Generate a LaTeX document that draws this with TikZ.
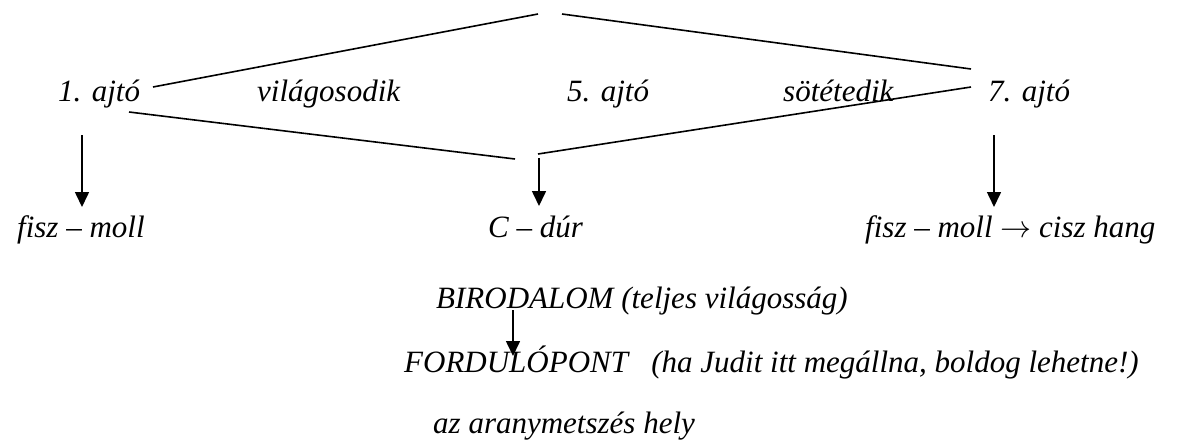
\RequirePackage{fix-cm}
\documentclass[tikz,border=0pt]{standalone}
\usepackage{fontspec}
\setmainfont{Liberation Serif}
\usetikzlibrary{arrows.meta}
\begin{document}
\begin{tikzpicture}[x=1pt,y=-1pt,
  lbl/.style={anchor=base west,inner sep=0pt,font=\itshape\fontsize{31}{37}\selectfont},
  ln/.style={line width=1.6pt},
  arr/.style={line width=1.6pt,-{Triangle[length=15pt,width=14pt]}}]
\useasboundingbox (0,0) rectangle (1180,439);
% texts
\node[lbl] (d1) at (58,101) {1. ajtó};
\node[lbl] (vil) at (257,101) {világosodik};
\node[lbl] (d5) at (567,101) {5. ajtó};
\node[lbl] (sot) at (783,101) {sötétedik};
\node[lbl] (d7) at (988,101) {7. ajtó};
\node[lbl] (fm1) at (17,237) {fisz – moll};
\node[lbl] (cdur) at (488,237) {C – dúr};
\node[lbl] (fm7) at (865,237) {fisz – moll $\rightarrow$ cisz hang};
\node[lbl] (bir) at (436,308) {BIRODALOM (teljes világosság)};
\node[lbl] (ford) at (404,372) {FORDULÓPONT\hspace{0.5em} (ha Judit itt megállna, boldog lehetne!)};
\node[lbl] (arany) at (433,433) {az aranymetszés hely};
% line endpoints
\coordinate (a1) at (153,87);
\coordinate (apexL) at (538,14);
\coordinate (apexR) at (562,14);
\coordinate (a7) at (971,69);
\coordinate (b1) at (129,112);
\coordinate (midL) at (515,159);
\coordinate (midR) at (538,154);
\coordinate (b7) at (971,87);
\draw[ln] (a1) -- (apexL);
\draw[ln] (apexR) -- (a7);
\draw[ln] (b1) -- (midL);
\draw[ln] (midR) -- (b7);
% arrows
\coordinate (s1) at (82,135);
\coordinate (t1) at (82,207);
\coordinate (s5) at (539,158);
\coordinate (t5) at (539,206);
\coordinate (s7) at (994,135);
\coordinate (t7) at (994,207);
\coordinate (sb) at (513,310);
\coordinate (tb) at (513,356);
\draw[arr] (s1) -- (t1);
\draw[arr] (s5) -- (t5);
\draw[arr] (s7) -- (t7);
\draw[arr] (sb) -- (tb);
\end{tikzpicture}
\end{document}
